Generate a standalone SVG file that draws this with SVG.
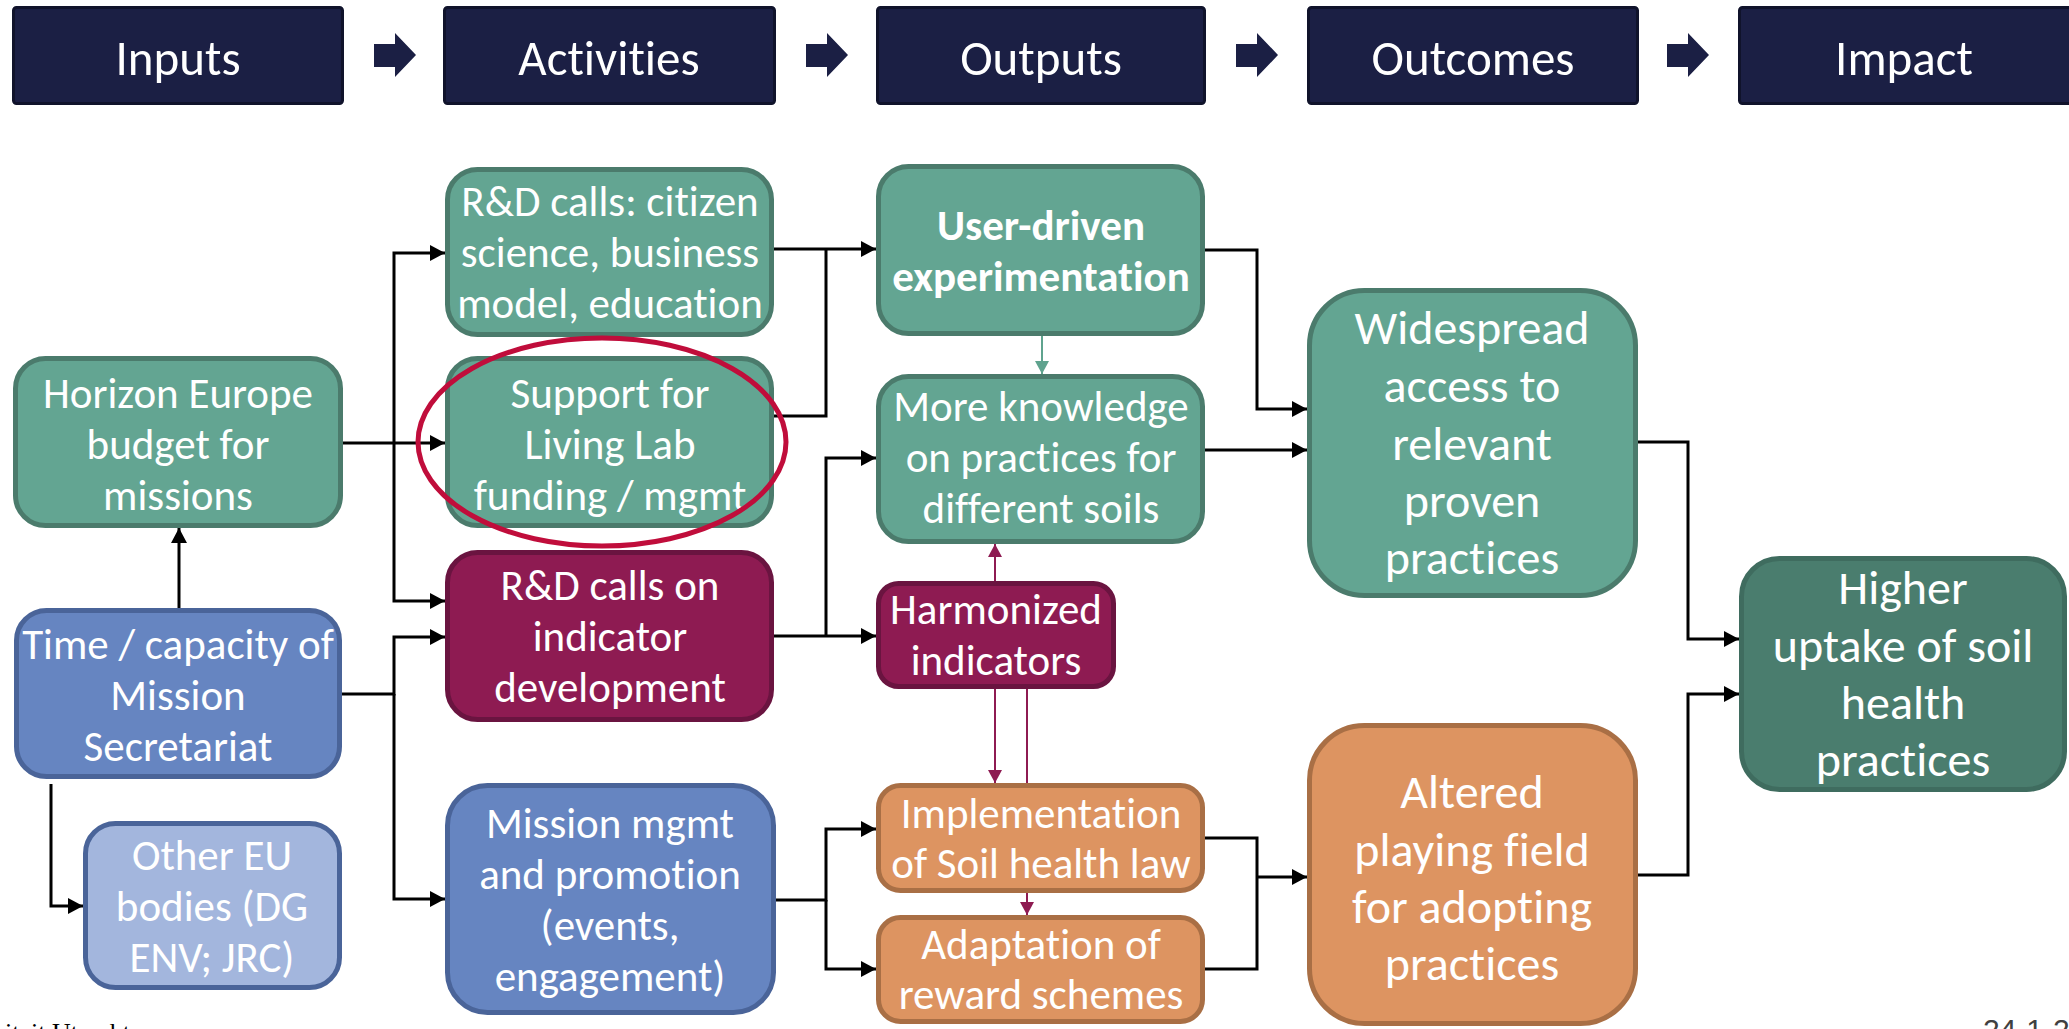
<svg xmlns="http://www.w3.org/2000/svg" width="2069" height="1029" viewBox="0 0 2069 1029">
<style>
.hdr{fill:#1b1f44;stroke:#10132b;stroke-width:3}
.harr{fill:#1b1f44}
.htxt{font-family:Carlito,'Liberation Sans',Arial,sans-serif;font-size:49px;fill:#ffffff;text-anchor:middle;font-variant-ligatures:none}
.t{font-family:Carlito,'Liberation Sans',Arial,sans-serif;font-size:43px;fill:#ffffff;text-anchor:middle;font-variant-ligatures:none}
.big{font-size:48px}
.b{font-weight:bold}
.green{fill:#63a592;stroke:#4b7b6c;stroke-width:5}
.dgreen{fill:#4a7d6e;stroke:#3f6c5f;stroke-width:5}
.maroon{fill:#8e1b52;stroke:#6a1440;stroke-width:5}
.blue{fill:#6685c1;stroke:#4a6499;stroke-width:5}
.lblue{fill:#a3b6dd;stroke:#4a6499;stroke-width:5}
.orange{fill:#dd9461;stroke:#a96f45;stroke-width:5}
.c{fill:none;stroke:#000000;stroke-width:3}
.cg{fill:none;stroke:#5fa38e;stroke-width:2}
.cp{fill:none;stroke:#8e1b52;stroke-width:2}
</style>
<defs>
<marker id="ah" markerUnits="userSpaceOnUse" markerWidth="16" markerHeight="16" refX="15" refY="8" orient="auto">
<path d="M0,0 L15,8 L0,16 z" fill="#000000"/>
</marker>
<marker id="ahg" markerUnits="userSpaceOnUse" markerWidth="14" markerHeight="14" refX="13" refY="7" orient="auto">
<path d="M0,0 L13,7 L0,14 z" fill="#5fa38e"/>
</marker>
<marker id="ahp" markerUnits="userSpaceOnUse" markerWidth="14" markerHeight="14" refX="13" refY="7" orient="auto">
<path d="M0,0 L13,7 L0,14 z" fill="#8e1b52"/>
</marker>
</defs>
<rect x="0" y="0" width="2069" height="1029" fill="#ffffff"/>

<g id="header">
<g id="h-inputs"><rect class="hdr" x="13.5" y="7.5" width="329" height="96" rx="3"/><text class="htxt" x="178" y="75">Inputs</text></g>
<g id="h-activities"><rect class="hdr" x="444.5" y="7.5" width="330" height="96" rx="3"/><text class="htxt" x="609" y="75">Activities</text></g>
<g id="h-outputs"><rect class="hdr" x="877.5" y="7.5" width="327" height="96" rx="3"/><text class="htxt" x="1041" y="75">Outputs</text></g>
<g id="h-outcomes"><rect class="hdr" x="1308.5" y="7.5" width="329" height="96" rx="3"/><text class="htxt" x="1473" y="75">Outcomes</text></g>
<g id="h-impact"><rect class="hdr" x="1739.5" y="7.5" width="340" height="96" rx="3"/><text class="htxt" x="1904" y="75">Impact</text></g>
<path class="harr" d="M374,44 H395 V33 L416,55 L395,77 V67 H374 z"/>
<path class="harr" d="M806,44 H827 V33 L848,55 L827,77 V67 H806 z"/>
<path class="harr" d="M1236,44 H1257 V33 L1278,55 L1257,77 V67 H1236 z"/>
<path class="harr" d="M1667,44 H1688 V33 L1709,55 L1688,77 V67 H1667 z"/>
</g>

<g id="connectors">
<path class="c" d="M343,443 H445" marker-end="url(#ah)"/>
<path class="c" d="M394,443 V253 H445" marker-end="url(#ah)"/>
<path class="c" d="M394,443 V601 H445" marker-end="url(#ah)"/>
<path class="c" d="M342,694 H394 V637 H445" marker-end="url(#ah)"/>
<path class="c" d="M394,694 V899 H445" marker-end="url(#ah)"/>
<path class="c" d="M179,608 V528" marker-end="url(#ah)"/>
<path class="c" d="M51,784 V906 H83" marker-end="url(#ah)"/>
<path class="c" d="M774,249 H876" marker-end="url(#ah)"/>
<path class="c" d="M774,416 H826 V249"/>
<path class="c" d="M774,636 H876" marker-end="url(#ah)"/>
<path class="c" d="M826,636 V458 H876" marker-end="url(#ah)"/>
<path class="c" d="M1205,250 H1257 V409 H1307" marker-end="url(#ah)"/>
<path class="c" d="M1205,450 H1307" marker-end="url(#ah)"/>
<path class="c" d="M776,900 H826 V829 H876" marker-end="url(#ah)"/>
<path class="c" d="M826,900 V969 H876" marker-end="url(#ah)"/>
<path class="c" d="M1205,838 H1257 V969 H1205"/>
<path class="c" d="M1257,877 H1307" marker-end="url(#ah)"/>
<path class="c" d="M1638,442 H1688 V639 H1739" marker-end="url(#ah)"/>
<path class="c" d="M1638,875 H1688 V694 H1739" marker-end="url(#ah)"/>
<path class="cg" d="M1042,336 V374" marker-end="url(#ahg)"/>
<path class="cp" d="M995,581 V544" marker-end="url(#ahp)"/>
<path class="cp" d="M995,689 V783" marker-end="url(#ahp)"/>
<path class="cp" d="M1027,689 V915" marker-end="url(#ahp)"/>
</g>

<g id="n-horizon"><rect class="green" x="15.5" y="358.5" width="325" height="167" rx="30"/>
<text class="t"><tspan x="178" y="408">Horizon Europe</tspan><tspan x="178" y="459">budget for</tspan><tspan x="178" y="510">missions</tspan></text></g>

<g id="n-time"><rect class="blue" x="16.5" y="610.5" width="323" height="166" rx="30"/>
<text class="t"><tspan x="178" y="659">Time / capacity of</tspan><tspan x="178" y="710">Mission</tspan><tspan x="178" y="761">Secretariat</tspan></text></g>

<g id="n-other"><rect class="lblue" x="85.5" y="823.5" width="254" height="164" rx="30"/>
<text class="t"><tspan x="212" y="870">Other EU</tspan><tspan x="212" y="921">bodies (DG</tspan><tspan x="212" y="972">ENV; JRC)</tspan></text></g>

<g id="n-citizen"><rect class="green" x="447.5" y="169.5" width="324" height="165" rx="30"/>
<text class="t"><tspan x="610" y="216">R&amp;D calls: citizen</tspan><tspan x="610" y="267">science, business</tspan><tspan x="610" y="318">model, education</tspan></text></g>

<g id="n-support"><rect class="green" x="447.5" y="358.5" width="324" height="167" rx="30"/>
<text class="t"><tspan x="610" y="408">Support for</tspan><tspan x="610" y="459">Living Lab</tspan><tspan x="610" y="510">funding / mgmt</tspan></text></g>

<g id="n-rdind"><rect class="maroon" x="447.5" y="552.5" width="324" height="167" rx="30"/>
<text class="t"><tspan x="610" y="600">R&amp;D calls on</tspan><tspan x="610" y="651">indicator</tspan><tspan x="610" y="702">development</tspan></text></g>

<g id="n-mission"><rect class="blue" x="447.5" y="785.5" width="326" height="227" rx="40"/>
<text class="t"><tspan x="610" y="838">Mission mgmt</tspan><tspan x="610" y="889">and promotion</tspan><tspan x="610" y="940">(events,</tspan><tspan x="610" y="991">engagement)</tspan></text></g>

<g id="n-user"><rect class="green" x="878.5" y="166.5" width="324" height="167" rx="30"/>
<text class="t b"><tspan x="1041" y="240">User-driven</tspan><tspan x="1041" y="291">experimentation</tspan></text></g>

<g id="n-knowledge"><rect class="green" x="878.5" y="376.5" width="324" height="165" rx="30"/>
<text class="t"><tspan x="1041" y="421">More knowledge</tspan><tspan x="1041" y="472">on practices for</tspan><tspan x="1041" y="523">different soils</tspan></text></g>

<g id="n-harmonized"><rect class="maroon" x="878.5" y="583.5" width="235" height="103" rx="20"/>
<text class="t"><tspan x="996" y="624">Harmonized</tspan><tspan x="996" y="675">indicators</tspan></text></g>

<g id="n-implementation"><rect class="orange" x="878.5" y="785.5" width="324" height="105" rx="22"/>
<text class="t"><tspan x="1041" y="828">Implementation</tspan><tspan x="1041" y="878">of Soil health law</tspan></text></g>

<g id="n-adaptation"><rect class="orange" x="878.5" y="917.5" width="324" height="104" rx="22"/>
<text class="t"><tspan x="1041" y="959">Adaptation of</tspan><tspan x="1041" y="1009">reward schemes</tspan></text></g>

<g id="n-widespread"><rect class="green" x="1309.5" y="290.5" width="326" height="305" rx="55"/>
<text class="t big"><tspan x="1472" y="344">Widespread</tspan><tspan x="1472" y="402">access to</tspan><tspan x="1472" y="460">relevant</tspan><tspan x="1472" y="517">proven</tspan><tspan x="1472" y="574">practices</tspan></text></g>

<g id="n-altered"><rect class="orange" x="1309.5" y="725.5" width="326" height="298" rx="55"/>
<text class="t big"><tspan x="1472" y="808">Altered</tspan><tspan x="1472" y="866">playing field</tspan><tspan x="1472" y="923">for adopting</tspan><tspan x="1472" y="980">practices</tspan></text></g>

<g id="n-higher"><rect class="dgreen" x="1741.5" y="558.5" width="323" height="231" rx="38"/>
<text class="t big"><tspan x="1903" y="604">Higher</tspan><tspan x="1903" y="662">uptake of soil</tspan><tspan x="1903" y="719">health</tspan><tspan x="1903" y="776">practices</tspan></text></g>

<ellipse id="highlight" cx="602" cy="442" rx="184" ry="104" fill="none" stroke="#c00d3b" stroke-width="5"/>

<text x="130" y="1041" font-family="'Liberation Serif',serif" font-size="26" text-anchor="end" fill="#000000">Universiteit Utrecht</text>
<text x="1983" y="1040" font-family="'Liberation Sans',Arial,sans-serif" font-size="30" fill="#404040">24-1-2024</text>
</svg>
